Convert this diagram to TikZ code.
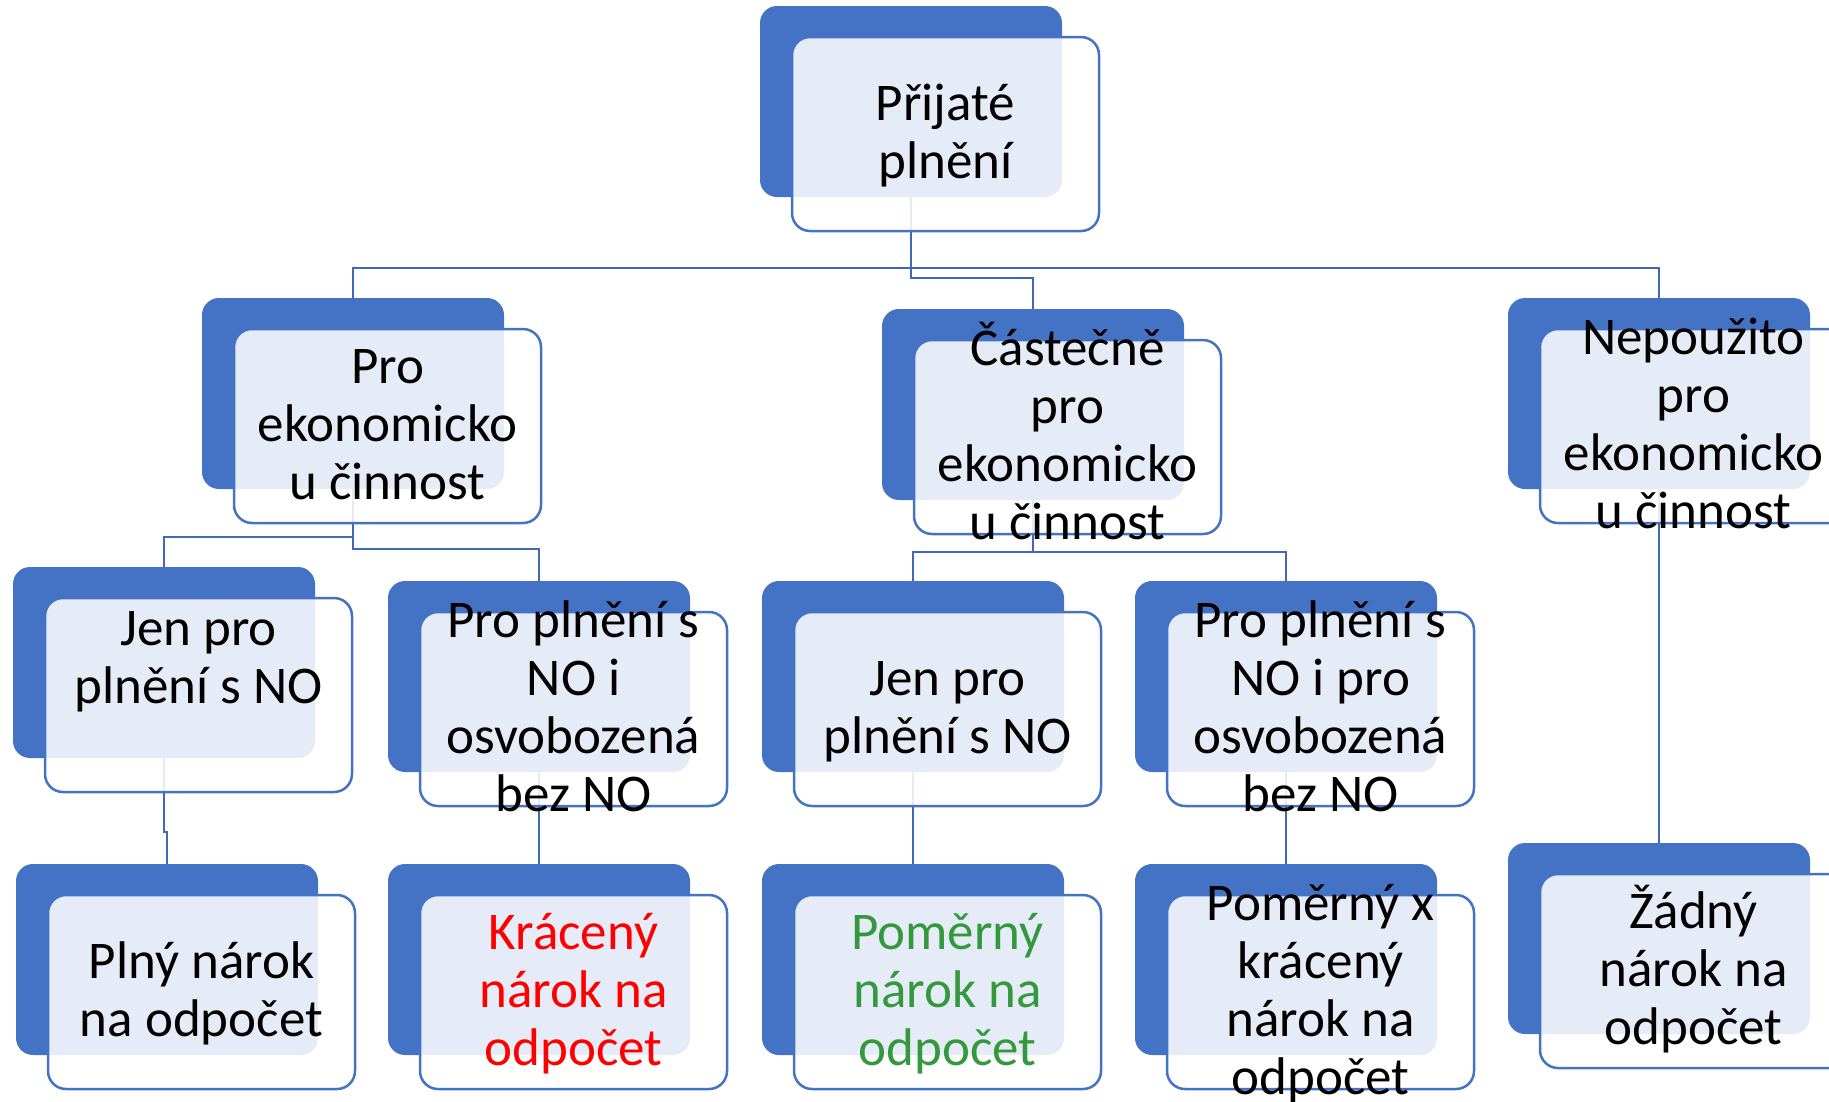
\documentclass[tikz,border=0pt]{standalone}
\usepackage{fontspec}
\setmainfont{Carlito}
\definecolor{accent}{HTML}{4472C4}
\definecolor{linkblue}{HTML}{3F69B8}
\definecolor{okgreen}{RGB}{51,153,60}
\definecolor{alertred}{RGB}{255,0,0}
% fixed line strut so every text line has the same height and depth
\newcommand\lnst{\rule[-14pt]{0pt}{58pt}}
\tikzset{
  darkbox/.style={fill=accent, draw=none, rounded corners=17pt,
    minimum width=302pt, minimum height=191pt, inner sep=0pt},
  frontbox/.style={draw=accent, line width=2.5pt, fill=white, fill opacity=0.87,
    rounded corners=18pt, minimum width=307pt, minimum height=194pt, inner sep=0pt},
  label/.style={font=\fontsize{53}{58}\selectfont, align=center, inner sep=0pt, text=black},
  link/.style={draw=linkblue, line width=2.5pt},
}
\begin{document}
\begin{tikzpicture}[x=1pt,y=-1pt]
\useasboundingbox (0,0) rectangle (1829,1101);
\clip (0,0) rectangle (1829,1101);

% back boxes first so the connectors sit on top of them
\node[darkbox] (topd) at (760+151,6+95.5) {};
\node[darkbox] (r2ad) at (202+151,298+95.5) {};
\node[darkbox] (r2bd) at (882+151,309+95.5) {};
\node[darkbox] (r2cd) at (1508+151,298+95.5) {};
\node[darkbox] (r3ad) at (13+151,567+95.5) {};
\node[darkbox] (r3bd) at (388+151,581+95.5) {};
\node[darkbox] (r3cd) at (762+151,581+95.5) {};
\node[darkbox] (r3dd) at (1135+151,581+95.5) {};
\node[darkbox] (r4ad) at (16+151,864+95.5) {};
\node[darkbox] (r4bd) at (388+151,864+95.5) {};
\node[darkbox] (r4cd) at (762+151,864+95.5) {};
\node[darkbox] (r4dd) at (1135+151,864+95.5) {};
\node[darkbox] (r4ed) at (1508+151,843+95.5) {};

% connectors
\draw[link] (topd.south) -- ++(0,71) -| (r2ad.north);
\draw[link] (topd.south) -- ++(0,71) -| (r2cd.north);
\draw[link] (topd.south) -- ++(0,81) -| (r2bd.north);
\draw[link] (r2ad.south) -- ++(0,48) -| (r3ad.north);
\draw[link] (r2ad.south) -- ++(0,60) -| (r3bd.north);
\draw[link] (r2bd.south) -- ++(0,52) -| (r3cd.north);
\draw[link] (r2bd.south) -- ++(0,52) -| (r3dd.north);
\draw[link] (r2cd.south) -- (r4ed.north);
\draw[link] (r3ad.south) -- ++(0,74) -| (r4ad.north);
\draw[link] (r3bd.south) -- (r4bd.north);
\draw[link] (r3cd.south) -- (r4cd.north);
\draw[link] (r3dd.south) -- (r4dd.north);

% front boxes
\node[frontbox] (topf) at (760+185.5,6+128) {};
\node[frontbox] (r2af) at (202+185.5,298+128) {};
\node[frontbox] (r2bf) at (882+185.5,309+128) {};
\node[frontbox] (r2cf) at (1508+185.5,298+128) {};
\node[frontbox] (r3af) at (13+185.5,567+128) {};
\node[frontbox] (r3bf) at (388+185.5,581+128) {};
\node[frontbox] (r3cf) at (762+185.5,581+128) {};
\node[frontbox] (r3df) at (1135+185.5,581+128) {};
\node[frontbox] (r4af) at (16+185.5,864+128) {};
\node[frontbox] (r4bf) at (388+185.5,864+128) {};
\node[frontbox] (r4cf) at (762+185.5,864+128) {};
\node[frontbox] (r4df) at (1135+185.5,864+128) {};
\node[frontbox] (r4ef) at (1508+185.5,843+128) {};

% texts
\node[label] (topt) at (topf) {\lnst Přijaté\\\lnst plnění};
\node[label] (r2at) at (r2af) {\lnst Pro\\\lnst ekonomicko\\\lnst u činnost};
\node[label] (r2bt) at (r2bf) {\lnst Částečně\\\lnst pro\\\lnst ekonomicko\\\lnst u činnost};
\node[label] (r2ct) at (r2cf) {\lnst Nepoužito\\\lnst pro\\\lnst ekonomicko\\\lnst u činnost};
\node[label,yshift=36pt] (r3at) at (r3af) {\lnst Jen pro\\\lnst plnění s NO};
\node[label] (r3bt) at (r3bf) {\lnst Pro plnění s\\\lnst NO i\\\lnst osvobozená\\\lnst bez NO};
\node[label] (r3ct) at (r3cf) {\lnst Jen pro\\\lnst plnění s NO};
\node[label] (r3dt) at (r3df) {\lnst Pro plnění s\\\lnst NO i pro\\\lnst osvobozená\\\lnst bez NO};
\node[label] (r4at) at (r4af) {\lnst Plný nárok\\\lnst na odpočet};
\node[label,text=alertred] (r4bt) at (r4bf) {\lnst Krácený\\\lnst nárok na\\\lnst odpočet};
\node[label,text=okgreen] (r4ct) at (r4cf) {\lnst Poměrný\\\lnst nárok na\\\lnst odpočet};
\node[label] (r4dt) at (r4df) {\lnst Poměrný x\\\lnst krácený\\\lnst nárok na\\\lnst odpočet};
\node[label] (r4et) at (r4ef) {\lnst Žádný\\\lnst nárok na\\\lnst odpočet};
\end{tikzpicture}
\end{document}
